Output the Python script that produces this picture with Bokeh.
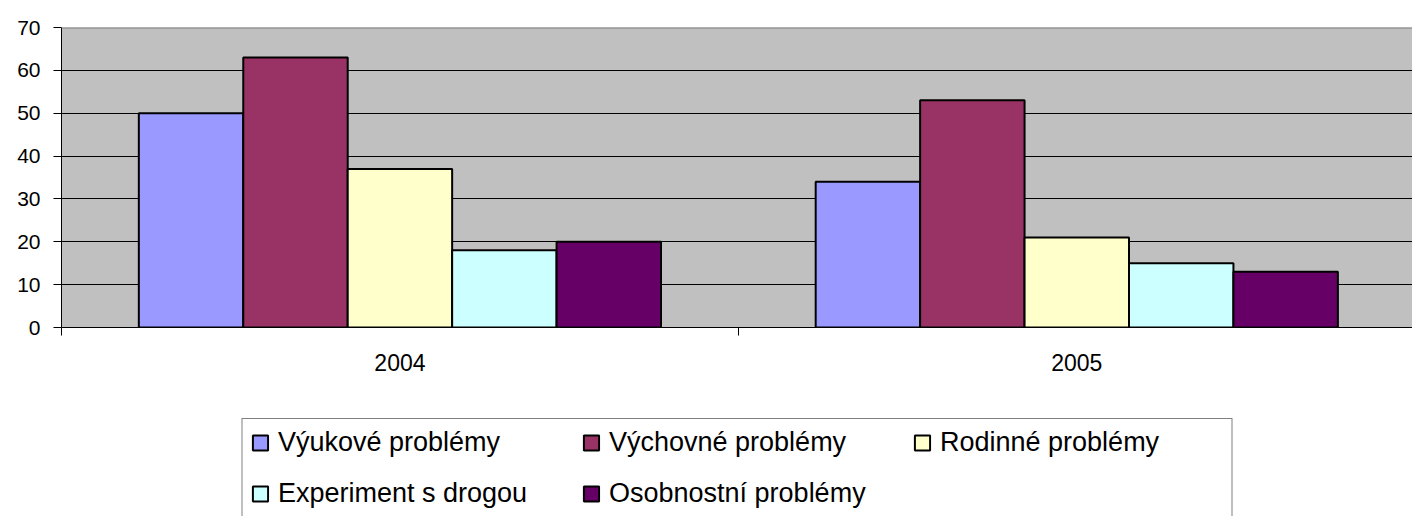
import numpy as np
from bokeh.plotting import figure
from bokeh.layouts import column
from bokeh.models import (ColumnDataSource, Range1d, FixedTicker, Legend, LegendItem, Span)
from bokeh.transform import dodge
from bokeh.embed import file_html
from bokeh.resources import INLINE

years = ["2004", "2005"]
series = ["Výukové problémy", "Výchovné problémy", "Rodinné problémy",
          "Experiment s drogou", "Osobnostní problémy"]
vyukove = [50, 34]
vychovne = [63, 53]
rodinne = [37, 21]
experiment = [18, 15]
osobnostni = [20, 13]
colors = ["#9999FF", "#993366", "#FFFFCC", "#CCFFFF", "#660066"]
y_ticks = [0, 10, 20, 30, 40, 50, 60, 70]

FONT = "Liberation Sans"

x = np.arange(len(years)) + 0.5
src = ColumnDataSource(dict(x=x, s0=vyukove, s1=vychovne, s2=rodinne, s3=experiment, s4=osobnostni))

p = figure(width=1412, height=400, output_backend="svg", toolbar_location=None,
           x_range=Range1d(0, 1.996), y_range=Range1d(0, 70),
           min_border_left=61, min_border_right=0, min_border_top=27, min_border_bottom=73)
p.background_fill_color = "#C0C0C0"
p.outline_line_color = None

bw = 0.1543
for i, (name, col) in enumerate(zip(series, colors)):
    p.vbar(x=dodge("x", (i - 2) * bw, range=p.x_range), top=f"s{i}", width=bw, source=src,
           fill_color=col, line_color="black", line_width=2)

# grid
p.xgrid.grid_line_color = None
p.ygrid.ticker = FixedTicker(ticks=y_ticks[1:-1])
p.ygrid.grid_line_color = "black"
p.ygrid.grid_line_width = 1
p.add_layout(Span(location=70, dimension="width", line_color="#808080", line_width=2))

# y axis
ya = p.yaxis[0]
ya.ticker = FixedTicker(ticks=y_ticks, minor_ticks=[])
ya.major_tick_out = 8
ya.major_tick_in = 0
ya.minor_tick_line_color = None
ya.axis_line_color = "black"
ya.major_tick_line_color = "black"
ya.major_label_text_font = FONT
ya.major_label_text_font_size = "21px"
ya.major_label_text_color = "black"
ya.major_label_standoff = 13

# x axis
xa = p.xaxis[0]
xa.ticker = FixedTicker(ticks=list(x), minor_ticks=[0, 1, 2])
xa.major_label_overrides = {float(v): yr for v, yr in zip(x, years)}
xa.major_tick_line_color = None
xa.major_tick_out = 8
xa.major_tick_in = 0
xa.minor_tick_out = 8
xa.minor_tick_in = 0
xa.minor_tick_line_color = "black"
xa.axis_line_color = "black"
xa.major_label_text_font = FONT
xa.major_label_text_font_size = "23px"
xa.major_label_text_color = "black"
xa.major_label_standoff = 18

# legend panel: a separate figure below the chart; its (hidden) bars only
# provide the legend swatches
lp = figure(width=1412, height=116, output_backend="svg", toolbar_location=None,
            x_range=p.x_range, y_range=Range1d(0, 70),
            x_axis_location=None, y_axis_location=None,
            min_border_left=61, min_border_right=0, min_border_top=0, min_border_bottom=0)
lp.grid.visible = False
lp.outline_line_color = None
lp.background_fill_color = "white"

items = []
for i, (name, col) in enumerate(zip(series, colors)):
    r = lp.vbar(x=dodge("x", (i - 2) * bw, range=lp.x_range), top=f"s{i}", width=bw, source=src,
                fill_color=col, line_color="black", line_width=2, visible=False)
    items.append(LegendItem(label=name, renderers=[r]))

order = [0, 3, 1, 4, 2]   # column-major order giving rows (0,1,2) and (3,4)
legend = Legend(items=[items[k] for k in order], nrows=2, location="top", margin=18, padding=8,
                spacing=20, glyph_width=19, glyph_height=19, label_standoff=9,
                label_width=283, label_text_font=FONT, label_text_font_size="27px",
                label_text_color="black", border_line_color="black", border_line_width=1,
                background_fill_color="white", background_fill_alpha=1.0,
                inactive_fill_alpha=0.0)
lp.add_layout(legend, "center")

layout = column(p, lp, spacing=0)
open("out.html", "w").write(file_html(layout, INLINE))
